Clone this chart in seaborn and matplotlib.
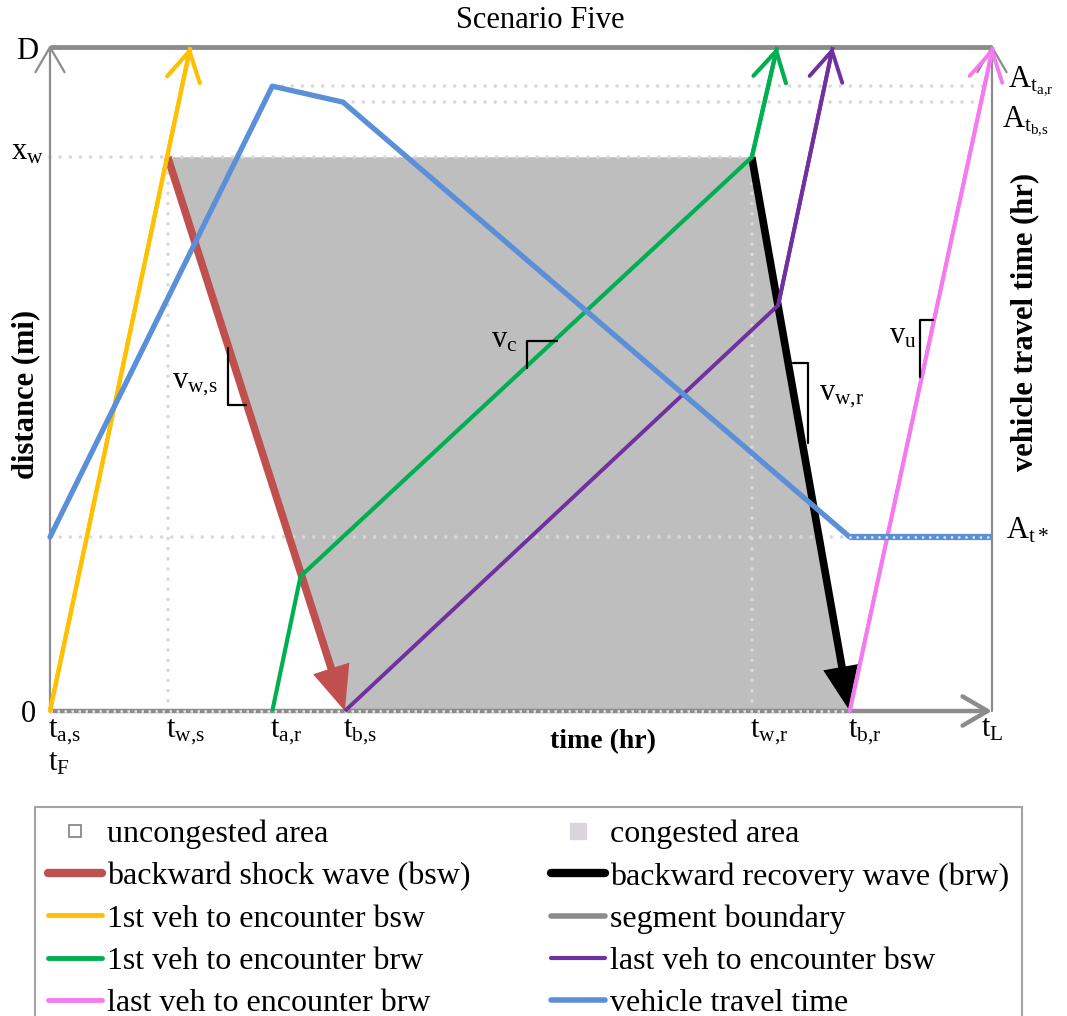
import matplotlib
matplotlib.use("Agg")
import matplotlib.pyplot as plt
from matplotlib.lines import Line2D
import seaborn as sns

# ---------------- data (time axis 0..100 = t_L, distance 0..100 = D) -------------
tick_pos = [0, 12.5, 23.6, 31.3, 74.5, 84.9, 100]
tick_labels = [r"$\mathrm{t_{a{,}s}}$", r"$\mathrm{t_{w{,}s}}$", r"$\mathrm{t_{a{,}r}}$",
               r"$\mathrm{t_{b{,}s}}$", r"$\mathrm{t_{w{,}r}}$", r"$\mathrm{t_{b{,}r}}$",
               r"$\mathrm{t_{L}}$"]
D = 100
x_w = 83.4
A_tar = 94.1
A_tbs = 91.7
A_tstar = 26.2

yellow_t = [0, 14.9]
yellow_x = [0, 100]
red_t = [12.5, 31.3]
red_x = [83.4, 0]
green_t = [23.6, 26.6, 74.5, 77.2]
green_x = [0, 20.3, 83.4, 100]
purple_t = [31.3, 77.3, 83.1]
purple_x = [0, 61.1, 100]
black_t = [74.5, 84.9]
black_x = [83.4, 0]
pink_t = [84.9, 100.1]
pink_x = [0, 100]
blue_t = [0, 23.6, 31.1, 84.9]
blue_x = [26.2, 94.1, 91.7, 26.2]
blue_flat_t = [84.9, 100]
blue_flat_x = [26.2, 26.2]
congested_t = [12.5, 74.5, 84.9, 31.3]
congested_x = [83.4, 83.4, 0, 0]

C_YELLOW = "#FFC000"
C_RED = "#C0504D"
C_GREEN = "#00B050"
C_PURPLE = "#7030A0"
C_PINK = "#F57AF0"
C_BLUE = "#5B8FD8"
C_GREY = "#8C8C8C"
C_DOT = "#D9D9D9"
C_AREA = "#BEBEBE"

sns.set_theme(style="white")
plt.rcParams["font.family"] = ["Liberation Serif", "DejaVu Serif"]
plt.rcParams["text.color"] = "black"
plt.rcParams["mathtext.fontset"] = "custom"
plt.rcParams["mathtext.rm"] = "Liberation Serif"
plt.rcParams["mathtext.it"] = "Liberation Serif:italic"
plt.rcParams["mathtext.bf"] = "Liberation Serif:bold"

fig = plt.figure(figsize=(10.67, 10.16), dpi=100)
ax = fig.add_axes([50 / 1067, 305 / 1016, 942 / 1067, 664 / 1016])
ax.set_xlim(0, 100)
ax.set_ylim(0, 100)
ax.axis("off")

FS = 22
dot_kw = dict(color=C_DOT, lw=2.6, linestyle=(0, (0.01, 2.8)), dash_capstyle="round",
              clip_on=False)

# congested area
ax.fill(congested_t, congested_x, color=C_AREA, lw=0, zorder=1)

# dotted guide lines
ax.plot([0, black_t[0]], [x_w, x_w], zorder=2, **dot_kw)
ax.plot([tick_pos[1], tick_pos[1]], [0, x_w], zorder=2, **dot_kw)
ax.plot([tick_pos[4], tick_pos[4]], [0, x_w], zorder=2, **dot_kw)
ax.plot([blue_t[1], 100], [A_tar, A_tar], zorder=2, **dot_kw)
ax.plot([blue_t[2], 100], [A_tbs, A_tbs], zorder=2, **dot_kw)
ax.plot([0, blue_flat_t[0]], [A_tstar, A_tstar], zorder=2, **dot_kw)

# segment boundaries / axes
ax.plot([0, 100], [D, D], color=C_GREY, lw=3.5, solid_capstyle="butt", zorder=3, clip_on=False)
ax.plot([0, tick_pos[5]], [0, 0], color=C_GREY, lw=3.2, solid_capstyle="butt", zorder=3, clip_on=False)
ax.plot([0, tick_pos[5]], [0, 0], color="#E6E6E6", lw=1.8, linestyle=(0, (1, 1.8)), zorder=3, clip_on=False)
ax.annotate("", xy=(100, 0), xytext=(tick_pos[5], 0),
            arrowprops=dict(arrowstyle="->,head_length=0.6,head_width=0.35", color=C_GREY, lw=3.2,
                            shrinkA=0, shrinkB=0, mutation_scale=30), zorder=3, annotation_clip=False)
ax.annotate("", xy=(0, 100.3), xytext=(0, 0),
            arrowprops=dict(arrowstyle="->,head_length=0.6,head_width=0.35", color=C_GREY, lw=1.6,
                            shrinkA=0, shrinkB=0, mutation_scale=30), zorder=3, annotation_clip=False)
ax.annotate("", xy=(100, 100.3), xytext=(100, 0),
            arrowprops=dict(arrowstyle="->,head_length=0.6,head_width=0.35", color=C_GREY, lw=1.6,
                            shrinkA=0, shrinkB=0, mutation_scale=30), zorder=3, annotation_clip=False)

# waves (thick arrows)
for t, x, c in [(red_t, red_x, C_RED), (black_t, black_x, "black")]:
    ax.annotate("", xy=(t[1], x[1]), xytext=(t[0], x[0]),
                arrowprops=dict(arrowstyle="-|>,head_length=0.8,head_width=0.34", color=c, lw=5.5,
                                shrinkA=0, shrinkB=0, mutation_scale=28, joinstyle="miter",
                                capstyle="butt"),
                zorder=4, annotation_clip=False)

# vehicle trajectories (seaborn lines)
def traj(t, x, color, lw, z=5):
    sns.lineplot(x=t, y=x, sort=False, estimator=None, color=color, lw=lw, ax=ax,
                 zorder=z, clip_on=False, solid_capstyle="butt")
    ax.annotate("", xy=(t[-1], x[-1]), xytext=(t[-2], x[-2]),
                arrowprops=dict(arrowstyle="->,head_length=0.7,head_width=0.4", color=color, lw=lw,
                                shrinkA=0, shrinkB=0, mutation_scale=30),
                zorder=z, annotation_clip=False)

traj(yellow_t, yellow_x, C_YELLOW, 3.0)
traj(green_t, green_x, C_GREEN, 3.0)
traj(purple_t, purple_x, C_PURPLE, 2.8)
traj(pink_t, pink_x, C_PINK, 2.8)

# vehicle travel time curve
sns.lineplot(x=blue_t, y=blue_x, sort=False, estimator=None, color=C_BLUE, lw=3.8, ax=ax,
             zorder=6, clip_on=False)
ax.plot(blue_flat_t, blue_flat_x, color=C_BLUE, lw=4.5, zorder=6, solid_capstyle="butt", clip_on=False)
ax.plot(blue_flat_t, blue_flat_x, color="#E8E8E8", lw=2.0, linestyle=(0, (0.01, 2.6)),
        dash_capstyle="round", zorder=6, clip_on=False)

# slope triangles
sk = dict(color="black", lw=1.6, zorder=8, clip_on=False)
ax.plot([18.9, 18.9, 20.8], [54.7, 46.1, 46.1], **sk)
ax.plot([50.6, 50.6, 53.8], [51.7, 55.7, 55.7], **sk)
ax.plot([78.9, 80.5, 80.5], [52.4, 52.4, 40.4], **sk)
ax.plot([93.7, 92.4, 92.4], [58.9, 58.9, 50.3], **sk)
ax.text(17.8, 48.6, r"$\mathrm{v_{w{,}s}}$", fontsize=FS, ha="right", va="baseline")
ax.text(49.6, 54.8, r"$\mathrm{v_{c}}$", fontsize=FS, ha="right", va="baseline")
ax.text(81.6, 46.8, r"$\mathrm{v_{w{,}r}}$", fontsize=FS, ha="left", va="baseline")
ax.text(92.0, 55.4, r"$\mathrm{v_{u}}$", fontsize=FS, ha="right", va="baseline")

# axis labels
for p, lab in zip(tick_pos, tick_labels):
    dx = -1.2 if p == 100 else -0.2
    ax.text(p + dx, -3.9, lab, fontsize=FS, ha="left", va="baseline")
ax.text(-0.2, -9.0, r"$\mathrm{t_{F}}$", fontsize=FS, ha="left", va="baseline")
ax.text(-1.3, 98.2, "D", fontsize=FS, ha="right", va="baseline")
ax.text(-0.6, 83.0, r"$\mathrm{x_{w}}$", fontsize=FS, ha="right", va="baseline")
ax.text(-1.5, -1.66, "0", fontsize=FS, ha="right", va="baseline")
ax.text(101.7, 94.1, r"$\mathrm{A_{t_{a{,}r}}}$", fontsize=FS, ha="left", va="baseline")
ax.text(101.1, 88.0, r"$\mathrm{A_{t_{b{,}s}}}$", fontsize=FS, ha="left", va="baseline")
ax.text(101.5, 26.0, r"$\mathrm{A_{t*}}$", fontsize=FS, ha="left", va="baseline")
ax.text(58.7, -5.6, "time (hr)", fontsize=20, fontweight="bold", ha="center", va="baseline")
ax.text(-2.6, 47.6, "distance (mi)", fontsize=22, fontweight="bold", rotation=90,
        ha="center", va="center")
ax.text(103.5, 58.6, "vehicle travel time (hr)", fontsize=22, fontweight="bold", rotation=90,
        ha="center", va="center")

fig.text(540 / 1067, 1 - 21 / 1016, "Scenario Five", fontsize=FS, ha="center", va="center")

# legend
handles = [
    Line2D([], [], ls="none", marker="s", markersize=9, markerfacecolor="white",
           markeredgecolor="#7F7F7F", markeredgewidth=1.2),
    Line2D([], [], color=C_RED, lw=6, solid_capstyle="round"),
    Line2D([], [], color=C_YELLOW, lw=3.5, solid_capstyle="round"),
    Line2D([], [], color=C_GREEN, lw=3.5, solid_capstyle="round"),
    Line2D([], [], color=C_PINK, lw=3.5, solid_capstyle="round"),
    Line2D([], [], ls="none", marker="s", markersize=11, markerfacecolor="#DAD5DC",
           markeredgecolor="#DAD5DC"),
    Line2D([], [], color="black", lw=6, solid_capstyle="round"),
    Line2D([], [], color=C_GREY, lw=4, solid_capstyle="round"),
    Line2D([], [], color=C_PURPLE, lw=3, solid_capstyle="round"),
    Line2D([], [], color=C_BLUE, lw=4, solid_capstyle="round"),
]
labels = ["uncongested area", "backward shock wave (bsw)", "1st veh to encounter bsw",
          "1st veh to encounter brw", "last veh to encounter brw",
          "congested area", "backward recovery wave (brw)", "segment boundary",
          "last veh to encounter bsw", "vehicle travel time"]
leg = fig.legend(handles, labels, ncol=2, loc="upper left", mode="expand",
                 bbox_to_anchor=(35 / 1067, -0.2, 987 / 1067, 1 - 807 / 1016 + 0.2),
                 fontsize=23, frameon=True, fancybox=False, edgecolor="#8C8C8C",
                 handlelength=1.7, handletextpad=0.15, labelspacing=0.4, borderpad=0.4,
                 borderaxespad=0, columnspacing=1.0)
leg.get_frame().set_linewidth(1.5)
for txt in leg.get_texts():
    txt.set_color("black")

fig.savefig("out.png", dpi=100)
